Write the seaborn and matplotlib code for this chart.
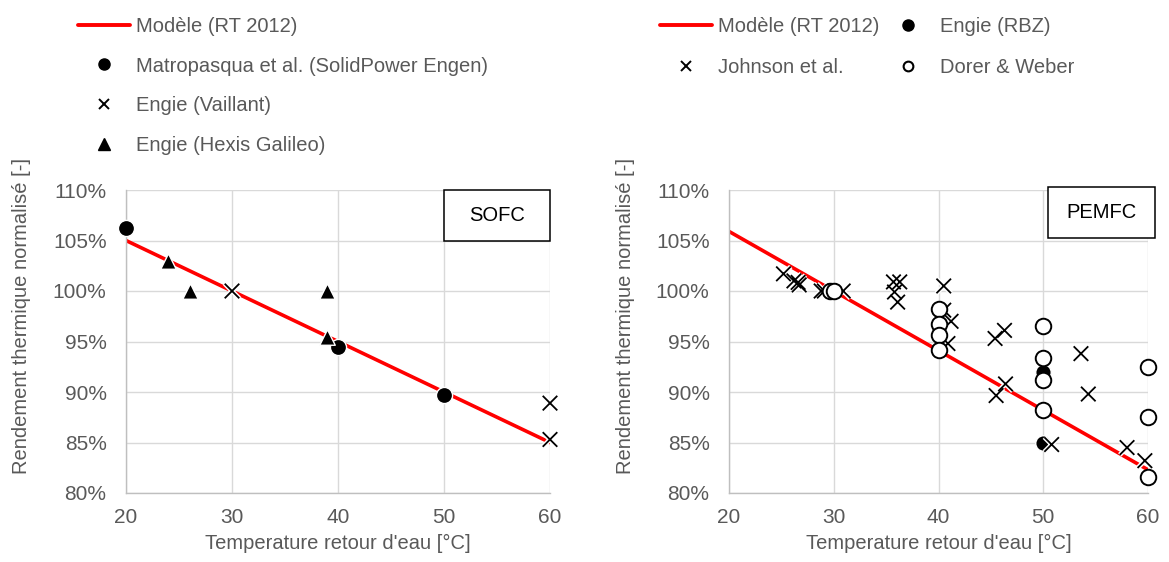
import matplotlib
matplotlib.use("Agg")
import matplotlib.pyplot as plt
import matplotlib.patheffects as pe
from matplotlib.lines import Line2D
from matplotlib.patches import Rectangle
from matplotlib.ticker import PercentFormatter
import seaborn as sns
import pandas as pd

# --- données ---
model_T = [20, 60]
model_sofc = [105.0, 85.0]
model_pemfc = [105.9, 82.3]

# SOFC
matropasqua_T = [20, 40, 50]
matropasqua_eff = [106.2, 94.5, 89.7]
vaillant_T = [30, 60, 60]
vaillant_eff = [100.0, 88.9, 85.3]
hexis_T = [24, 26, 39, 39]
hexis_eff = [103.0, 100.0, 100.0, 95.4]

# PEMFC
johnson_T = [25.2, 26.2, 26.6, 26.7, 28.8, 29.1, 30.9, 35.7, 36.3, 35.8, 36.1,
             40.5, 40.5, 41.2, 40.9, 45.4, 46.3, 45.5, 46.4, 50.8, 53.6, 54.3,
             58.0, 59.7]
johnson_eff = [101.7, 101.0, 100.85, 100.6, 100.0, 100.0, 100.0, 100.9, 100.9,
               99.9, 98.9, 100.5, 98.1, 97.0, 94.8, 95.3, 96.1, 89.65, 90.8,
               84.8, 93.8, 89.8, 84.5, 83.2]
rbz_T = [50, 50]
rbz_eff = [92.0, 85.0]
dorer_T = [29.6, 30.0, 40, 40, 40, 40, 50, 50, 50, 50, 60, 60, 60]
dorer_eff = [100.0, 100.0, 98.2, 96.7, 95.65, 94.2, 96.5, 93.4, 91.2, 88.25,
             92.45, 87.5, 81.6]

GRIS = "#595959"
ROUGE = "#ff0000"
FS = 14.5

sns.set_theme(style="whitegrid")
plt.rcParams["font.family"] = ["Liberation Sans", "DejaVu Sans"]
plt.rcParams["text.color"] = GRIS

fig = plt.figure(figsize=(11.69, 5.62), dpi=100)
ax1 = fig.add_axes([126 / 1169, 69 / 562, 424 / 1169, 303 / 562])
ax2 = fig.add_axes([729 / 1169, 69 / 562, 419 / 1169, 303 / 562])

halo = [pe.Stroke(linewidth=3.4, foreground="white"), pe.Normal()]


def tracer_modele(ax, y):
    df = pd.DataFrame({"T": model_T, "eff": y})
    sns.lineplot(data=df, x="T", y="eff", ax=ax, color=ROUGE, linewidth=2.6,
                 zorder=2)


def points_pleins(ax, x, y, marker, s):
    sns.scatterplot(x=x, y=y, ax=ax, marker=marker, s=s, color="black",
                    edgecolor="white", linewidth=1.0, zorder=3, clip_on=False)


def croix(ax, x, y):
    sns.scatterplot(x=x, y=y, ax=ax, marker="x", s=110, color="black",
                    linewidth=1.3, zorder=4, clip_on=False, path_effects=halo)


def cercles_vides(ax, x, y):
    sns.scatterplot(x=x, y=y, ax=ax, marker="o", s=125, facecolor="white",
                    edgecolor="black", linewidth=1.4, zorder=5, clip_on=False)


# --- SOFC ---
tracer_modele(ax1, model_sofc)
points_pleins(ax1, matropasqua_T, matropasqua_eff, "o", 135)
croix(ax1, vaillant_T, vaillant_eff)
points_pleins(ax1, hexis_T, hexis_eff, "^", 125)

# --- PEMFC ---
tracer_modele(ax2, model_pemfc)
points_pleins(ax2, rbz_T, rbz_eff, "o", 125)
croix(ax2, johnson_T, johnson_eff)
cercles_vides(ax2, dorer_T, dorer_eff)

for ax, nom, box in [(ax1, "SOFC", (0.75, 0.832, 0.25, 0.168)),
                     (ax2, "PEMFC", (0.761, 0.842, 0.256, 0.168))]:
    ax.set_xlim(20, 60)
    ax.set_ylim(80, 110)
    ax.set_xticks([20, 30, 40, 50, 60])
    ax.set_yticks([80, 85, 90, 95, 100, 105, 110])
    ax.yaxis.set_major_formatter(PercentFormatter(decimals=0))
    ax.grid(True, color="#d9d9d9", linewidth=1.0)
    for side in ["top", "right"]:
        ax.spines[side].set_visible(False)
    for side in ["left", "bottom"]:
        ax.spines[side].set_color("#bfbfbf")
        ax.spines[side].set_linewidth(1.0)
    ax.tick_params(axis="both", length=0, labelsize=FS + 0.5, labelcolor=GRIS)
    ax.tick_params(axis="x", pad=11)
    ax.tick_params(axis="y", pad=14)
    ax.set_xlabel("Temperature retour d'eau [°C]", fontsize=FS, color=GRIS,
                  labelpad=5)
    ax.set_ylabel("Rendement thermique normalisé [-]", fontsize=FS, color=GRIS)
    ax.yaxis.set_label_coords(-0.225, 0.585)
    ax.add_patch(Rectangle((box[0], box[1]), box[2], box[3],
                           transform=ax.transAxes, facecolor="white",
                           edgecolor="black", linewidth=1.1, zorder=6,
                           clip_on=False))
    ax.text(box[0] + box[2] / 2, box[1] + box[3] / 2, nom,
            transform=ax.transAxes, ha="center", va="center", fontsize=FS,
            color="black", zorder=7)

# --- légendes ---
h_modele = Line2D([], [], color=ROUGE, linewidth=2.8)
h_rond = Line2D([], [], linestyle="", marker="o", markersize=8,
                markerfacecolor="black", markeredgecolor="black")
h_croix = Line2D([], [], linestyle="", marker="x", markersize=7,
                 color="black", markeredgewidth=1.4)
h_tri = Line2D([], [], linestyle="", marker="^", markersize=8,
               markerfacecolor="black", markeredgecolor="black")
h_vide = Line2D([], [], linestyle="", marker="o", markersize=7,
                markerfacecolor="white", markeredgecolor="black",
                markeredgewidth=1.5)

leg1 = fig.legend([h_modele, h_rond, h_croix, h_tri],
                  ["Modèle (RT 2012)", "Matropasqua et al. (SolidPower Engen)",
                   "Engie (Vaillant)", "Engie (Hexis Galileo)"],
                  loc="upper left", bbox_to_anchor=(78 / 1169, 1 - 17 / 562),
                  frameon=False, fontsize=FS, borderpad=0, borderaxespad=0,
                  handlelength=2.6, handletextpad=0.3, labelspacing=1.02)
leg2 = fig.legend([h_modele, h_croix, h_rond, h_vide],
                  ["Modèle (RT 2012)", "Johnson et al.", "Engie (RBZ)",
                   "Dorer & Weber"],
                  loc="upper left", bbox_to_anchor=(660 / 1169, 1 - 17 / 562),
                  ncol=2, frameon=False, fontsize=FS, borderpad=0,
                  borderaxespad=0, handlelength=2.6, handletextpad=0.3,
                  labelspacing=1.08, columnspacing=0.1)
for leg in (leg1, leg2):
    for t in leg.get_texts():
        t.set_color(GRIS)

fig.savefig("out.png", dpi=100)
